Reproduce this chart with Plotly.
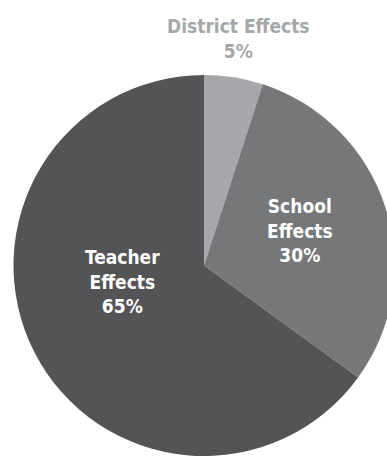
import plotly.graph_objects as go

# Share of variance in student outcomes by level
categories = ["District Effects", "School Effects", "Teacher Effects"]
label_lines = [["District Effects"], ["School", "Effects"], ["Teacher", "Effects"]]
shares = [5, 30, 65]
slice_colors = ["#a6a7aa", "#767779", "#545456"]

# Label placement (paper coordinates) and text colours
label_x = [238, 300, 122]
label_y = [39, 231, 281]
label_colors = ["#a6a7aa", "#ffffff", "#ffffff"]

W, H = 408, 456
FONT = "DejaVu Sans Condensed, Liberation Sans Narrow, Arial Narrow, sans-serif"

fig = go.Figure(
    go.Pie(
        labels=categories,
        values=shares,
        sort=False,
        direction="clockwise",
        rotation=0,
        marker=dict(colors=slice_colors, line=dict(width=0)),
        textinfo="none",
        hoverinfo="label+percent",
        showlegend=False,
        domain=dict(x=[0, 1], y=[0, (H - 75) / H]),
    )
)

for lines, v, x, y, c in zip(label_lines, shares, label_x, label_y, label_colors):
    fig.add_annotation(
        x=x / W,
        y=1 - y / H,
        xref="paper",
        yref="paper",
        xanchor="center",
        yanchor="middle",
        text="<br>".join(lines + [f"{v}%"]),
        showarrow=False,
        align="center",
        font=dict(family=FONT, size=19, color=c, weight="bold"),
    )

fig.update_layout(
    width=W,
    height=H,
    margin=dict(l=0, r=0, t=0, b=0),
    paper_bgcolor="white",
    plot_bgcolor="white",
)

fig.write_html("out.html")
